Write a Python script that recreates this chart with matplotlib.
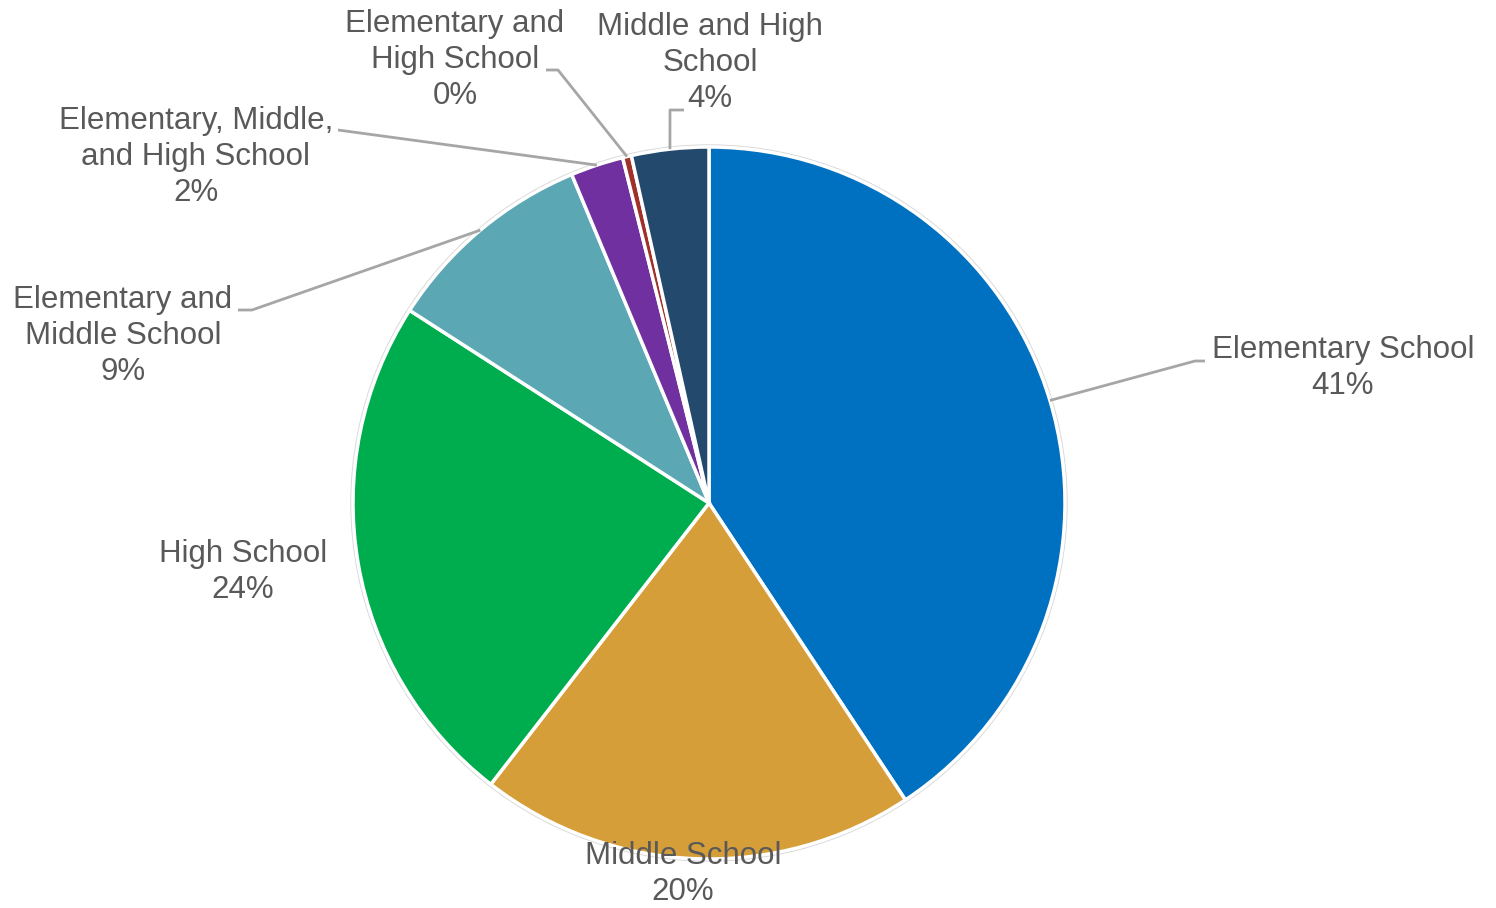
import numpy as np
import matplotlib.pyplot as plt

# school level shares (percent), clockwise from 12 o'clock
categories = ["Elementary School", "Middle School", "High School",
              "Elementary and\nMiddle School", "Elementary, Middle,\nand High School",
              "Elementary and\nHigh School", "Middle and High\nSchool"]
shares = [40.7, 19.8, 23.6, 9.6, 2.4, 0.4, 3.5]
pct_labels = ["41%", "20%", "24%", "9%", "2%", "0%", "4%"]
colors = ["#0070C0", "#D69E38", "#00AD4E", "#5BA7B4", "#7030A0", "#A0302A", "#234A6C"]

W, H = 1496, 908
cx, cy, R = 709, H - 503, 356

fig = plt.figure(figsize=(W / 100, H / 100), dpi=100)
ax = fig.add_axes([0, 0, 1, 1])

wedges, _ = ax.pie(shares, colors=colors, startangle=90, counterclock=False,
                   center=(cx, cy), radius=R, frame=True,
                   wedgeprops=dict(edgecolor="white", linewidth=2.5))
ax.set_xlim(0, W)
ax.set_ylim(0, H)
ax.set_aspect("equal")
ax.axis("off")

# faint outline around the pie
ax.add_patch(plt.Circle((cx, cy), R + 2, fill=False, ec="#D9D9D9", lw=1, zorder=0))

# label centres (pixels from top-left) and leader elbows
label_pos = [(1343, 368), (683, 874), (243, 572), (123, 336), (196, 157), (455, 60), (710, 63)]
elbows = [[(1205, 361), (1195, 361)], None, None,
          [(238, 310), (252, 310)], [(338, 130)], [(546, 70), (558, 70)],
          [(684, 110), (670, 110)]]

txt_color = "#595959"
line_color = "#A6A6A6"

for w, name, pct, (lx, ly), elb in zip(wedges, categories, pct_labels, label_pos, elbows):
    ax.text(lx, H - ly, name + "\n" + pct, ha="center", va="center",
            fontsize=22.5, color=txt_color, family="Liberation Sans",
            linespacing=1.24, zorder=5)
    if elb is None:
        continue
    mid = np.deg2rad((w.theta1 + w.theta2) / 2)
    ax_x = cx + R * np.cos(mid)
    ax_y = cy + R * np.sin(mid)
    xs = [p[0] for p in elb] + [ax_x]
    ys = [H - p[1] for p in elb] + [ax_y]
    ax.plot(xs, ys, color=line_color, lw=2, solid_capstyle="butt", zorder=4)

fig.savefig("out.png", dpi=100, facecolor="white")
